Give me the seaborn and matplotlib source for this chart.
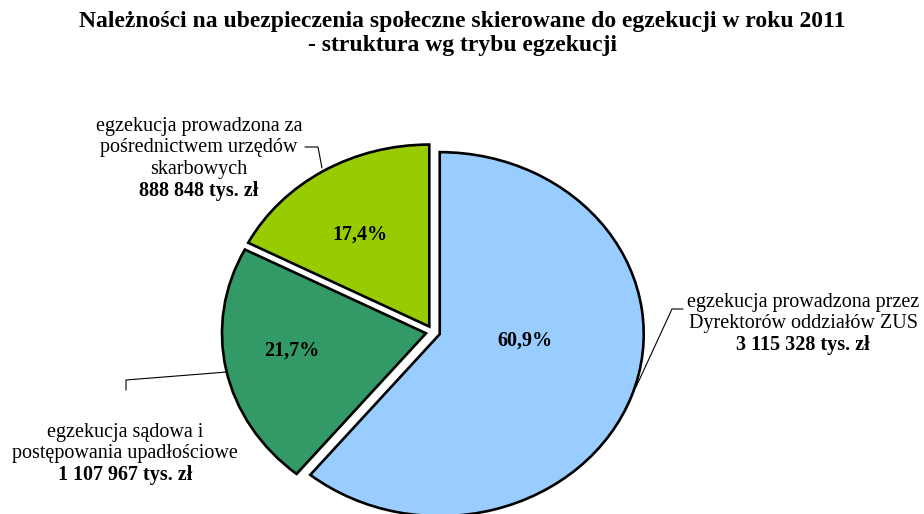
import matplotlib.pyplot as plt
import seaborn as sns

# dane (tys. zł)
kategorie = [
    ['egzekucja prowadzona przez', 'Dyrektorów oddziałów ZUS'],
    ['egzekucja sądowa i', 'postępowania upadłościowe'],
    ['egzekucja prowadzona za', 'pośrednictwem urzędów', 'skarbowych'],
]
kwoty = [3115328, 1107967, 888848]
kwoty_tekst = ['3 115 328 tys. zł', '1 107 967 tys. zł', '888 848 tys. zł']
procenty = ['60,9%', '21,7%', '17,4%']
kolory = ['#99CCFF', '#339966', '#99CC00']

sns.set_theme(style='white')
plt.rcParams['font.family'] = ['Liberation Serif', 'DejaVu Serif']
plt.rcParams['text.color'] = 'black'

W, H = 924, 514
fig = plt.figure(figsize=(W / 100, H / 100), dpi=100)
ax = fig.add_axes([0, 0, 1, 1])

# srodek kola i promienie w pikselach (kolo lekko rozciagniete w poziomie)
cx, cy, rx, ry = 433, 332, 204, 182


def px(x, y):
    # piksele -> wspolrzedne danych
    return (x - cx) / rx, (cy - y) / ry


wedges, _ = ax.pie(kwoty, colors=kolory, startangle=90, counterclock=False,
                   explode=[0.035] * 3,
                   wedgeprops=dict(edgecolor='black', linewidth=1.9))
ax.set_aspect('auto')
ax.set_xlim(px(0, 0)[0], px(W, 0)[0])
ax.set_ylim(px(0, H)[1], px(0, 0)[1])
ax.axis('off')

# etykiety procentowe
poz_proc = [(525, 341), (292, 351), (360, 235)]
for p, (x, y) in zip(procenty, poz_proc):
    ax.text(*px(x, y), p, ha='center', va='center', fontsize=14.5, fontweight='bold')

# opisy kategorii: kazda linia osobno, odstep 22 px, na koncu kwota pogrubiona
poz_opis = [(803, 302), (125, 432), (199, 126)]
for linie_opisu, kw, (x, y) in zip(kategorie, kwoty_tekst, poz_opis):
    for i, t in enumerate(linie_opisu):
        ax.text(*px(x, y + 21.7 * i), t, ha='center', va='center', fontsize=14.5)
    ax.text(*px(x, y + 21.7 * len(linie_opisu)), kw, ha='center', va='center',
            fontsize=14.5, fontweight='bold')

# linie odniesienia
linie = [
    [(683, 309), (672, 309), (636, 387)],
    [(126, 390), (126, 380), (227, 372)],
    [(305, 147), (318, 147), (322, 168)],
]
for l in linie:
    xs, ys = zip(*[px(x, y) for x, y in l])
    ax.plot(xs, ys, color='black', linewidth=0.8)

fig.text(0.5, 1 - 22 / H, 'Należności na ubezpieczenia społeczne skierowane do egzekucji w roku 2011',
         ha='center', va='center', fontsize=17, fontweight='bold')
fig.text(0.5, 1 - 46 / H, '- struktura wg trybu egzekucji',
         ha='center', va='center', fontsize=17, fontweight='bold')

fig.savefig('out.png', dpi=100)
